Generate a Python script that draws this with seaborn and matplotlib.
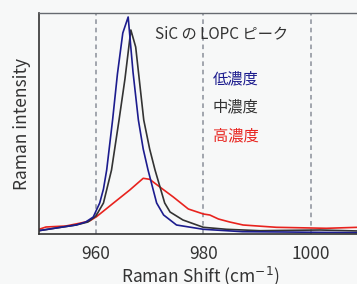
import seaborn as sns
import pandas as pd
import matplotlib.pyplot as plt

# values (arbitrary intensity units)
low_x = [949.0, 952.6, 956.3, 958.1, 959.5, 960.7, 961.4, 962.0, 963.1, 964.0, 965.0, 966.0,
         966.9, 967.9, 968.8, 969.7, 971.3, 972.6, 975.0, 980.0, 987.3, 995.0, 1008.8]
low_y = [3, 6, 9, 12, 17, 31, 45, 64, 114, 160, 201, 217,
         162, 114, 85, 64, 31, 19, 9, 4.7, 2.3, 2, 1.3]

mid_x = [949.0, 952.6, 956.3, 958.5, 960.0, 961.4, 962.9, 964.3, 965.4, 966.5,
         967.4, 968.9, 970.0, 971.0, 972.8, 973.8, 976.2, 980.0, 984.3, 990.5, 1001.7, 1008.8]
mid_y = [3, 6, 9, 12, 18, 31, 64, 114, 155, 204,
         187, 114, 85, 64, 31, 22, 14, 6.7, 4.7, 3.3, 4, 3]

high_x = [949.0, 950.7, 954.4, 956.9, 958.8, 960.1, 963.2, 966.3, 968.8, 970.0,
          971.9, 974.4, 977.2, 980.0, 981.2, 982.8, 984.9, 987.4, 993.6, 1002.9, 1008.8]
high_y = [4, 7, 8, 10.7, 13, 17.3, 30.7, 44, 55.7, 54.7,
          47, 37, 25, 20, 19, 15, 12, 9, 6.7, 5.7, 6.7]

series = [("低濃度", low_x, low_y), ("中濃度", mid_x, mid_y), ("高濃度", high_x, high_y)]
colors = {"低濃度": "#1c1c8e", "中濃度": "#333333", "高濃度": "#e8231e"}

rows = []
for name, xs, ys in series:
    for x, y in zip(xs, ys):
        rows.append({"shift": x, "intensity": y, "sample": name})
df = pd.DataFrame(rows)

sns.set_style("white")
plt.rcParams['font.family'] = ['Noto Sans CJK JP', 'DejaVu Sans']

bg = "#f7f8f8"
fig = plt.figure(figsize=(3.57, 2.84), dpi=100, facecolor=bg)
ax = fig.add_axes([39 / 357, 50 / 284, 1 - 39 / 357 + 0.01, 221 / 284])
ax.set_facecolor(bg)

for x in [960, 980, 1000]:
    ax.axvline(x, color="#8a8f99", lw=1.1, ls=(0, (3, 2.5)), zorder=0)

# red first so blue/black sit on top
sns.lineplot(data=df, x="shift", y="intensity", hue="sample",
             hue_order=["高濃度", "中濃度", "低濃度"], palette=colors,
             linewidth=1.2, legend=False, ax=ax, sort=False)

ax.set_xlim(949.4, 1008.6 + 0.01 * 59.2 / (1 - 39 / 357))
ax.set_ylim(0, 221)
ax.set_xticks([960, 980, 1000])
ax.set_yticks([])
ax.tick_params(axis="x", length=0, labelsize=12.5, colors="#333333", pad=8)
ax.set_xlabel(r"Raman Shift (cm$^{-1}$)", fontsize=12.5, color="#333333", labelpad=1)
ax.set_ylabel("Raman intensity", fontsize=12.5, color="#333333", labelpad=6)

for side in ["left", "bottom"]:
    ax.spines[side].set_color("#333333")
    ax.spines[side].set_linewidth(1.2)
ax.spines["top"].set_color("#666a70")
ax.spines["top"].set_linewidth(1.0)
ax.spines["right"].set_visible(False)

ax.text(0.36, 0.905, "SiC の LOPC ピーク", transform=ax.transAxes,
        fontsize=11, color="#333333", va="center", ha="left")
label_y = [0.70, 0.575, 0.445]
for (name, _, _), ly in zip(series, label_y):
    ax.text(0.54, ly, name, transform=ax.transAxes, fontsize=11,
            color=colors[name], va="center", ha="left")

fig.savefig("out.png", dpi=100, facecolor=bg)
